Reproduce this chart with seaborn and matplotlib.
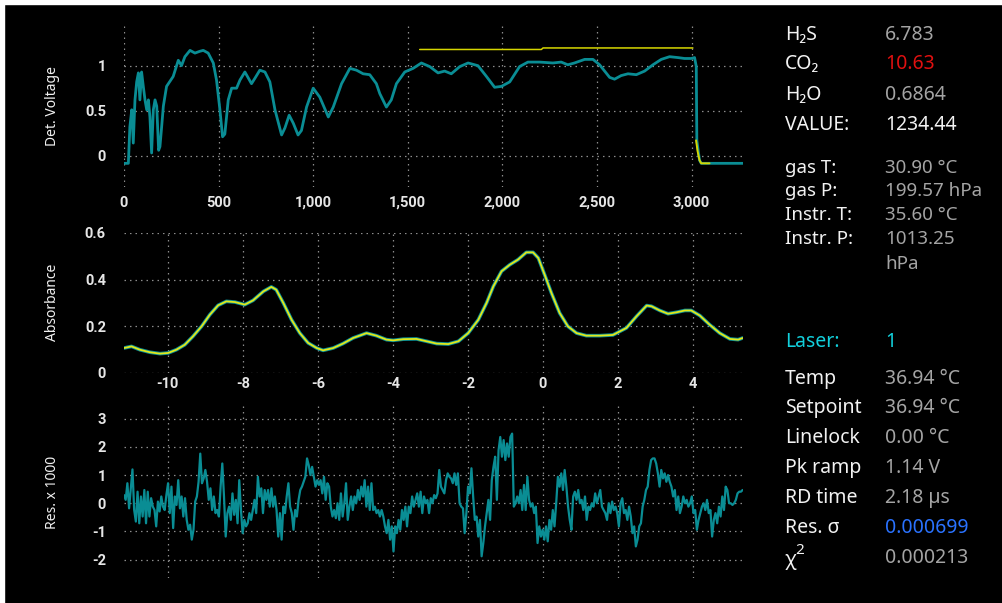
import numpy as np
import seaborn as sns
import matplotlib.pyplot as plt
from matplotlib.ticker import FuncFormatter
from matplotlib.patches import Rectangle

OUTPUT_IMAGE = 'out.png'

# --- detector voltage scan (top panel) ---
DET_X = [0, 23, 31, 41, 49, 58, 67, 76, 84, 93,
         102, 111, 120, 129, 137, 146, 155, 164, 173, 183,
         190, 199, 208, 225, 260, 287, 304, 322, 349, 375,
         401, 419, 445, 472, 489, 507, 521, 533, 551, 569,
         595, 613, 639, 674, 692, 718, 745, 771, 798, 833,
         851, 873, 895, 920, 938, 965, 1000, 1035, 1080, 1106,
         1150, 1194, 1229, 1264, 1299, 1334, 1352, 1387, 1413, 1440,
         1484, 1528, 1572, 1616, 1660, 1695, 1730, 1775, 1819, 1871,
         1916, 1959, 1995, 2039, 2091, 2135, 2197, 2267, 2311, 2346,
         2381, 2435, 2479, 2514, 2567, 2593, 2628, 2664, 2708, 2752,
         2796, 2840, 2884, 2928, 2963, 2998, 3016, 3025, 3028, 3042,
         3051, 3271]
DET_Y = [-0.085, -0.085, 0.32, 0.51, 0.14, 0.62, 0.82, 0.92, 0.62, 0.93,
         0.77, 0.62, 0.51, 0.62, 0.43, 0.03, 0.51, 0.62, 0.55, 0.06,
         0.10, 0.32, 0.55, 0.77, 0.88, 1.06, 1.00, 1.10, 1.17, 1.14,
         1.16, 1.17, 1.14, 1.03, 0.84, 0.51, 0.21, 0.24, 0.62, 0.75,
         0.75, 0.84, 0.93, 0.80, 0.86, 0.95, 0.93, 0.82, 0.51, 0.23,
         0.31, 0.45, 0.36, 0.23, 0.28, 0.54, 0.75, 0.65, 0.43, 0.54,
         0.80, 0.97, 0.95, 0.91, 0.90, 0.80, 0.69, 0.54, 0.62, 0.80,
         0.93, 0.97, 1.03, 0.99, 0.92, 0.94, 0.91, 0.99, 1.03, 1.00,
         0.88, 0.76, 0.77, 0.82, 0.99, 1.04, 1.04, 1.03, 1.04, 1.01,
         1.03, 1.07, 1.07, 1.01, 0.87, 0.85, 0.89, 0.91, 0.90, 0.94,
         1.01, 1.07, 1.10, 1.09, 1.08, 1.08, 1.09, 0.99, 0.17, -0.05,
         -0.085, -0.085]

# yellow reference / window markers on the scan
WIN_X = [1563, 2206, 2215, 3007]
WIN_Y = [1.18, 1.18, 1.197, 1.197]
TAIL_X = [3024, 3032, 3042, 3051, 3095]
TAIL_Y = [0.17, 0.05, -0.05, -0.085, -0.085]

# --- absorbance (middle panel): measured + fit ---
ABS_X = [-11.17, -10.97, -10.75, -10.48, -10.21, -9.99, -9.77, -9.55, -9.33, -9.10,
         -8.88, -8.66, -8.44, -8.21, -7.95, -7.73, -7.45, -7.24, -7.11, -6.92,
         -6.70, -6.48, -6.26, -6.03, -5.86, -5.59, -5.33, -5.06, -4.70, -4.44,
         -4.17, -3.99, -3.72, -3.37, -3.10, -2.83, -2.52, -2.25, -1.99, -1.72,
         -1.50, -1.32, -1.10, -0.88, -0.66, -0.44, -0.26, -0.12, 0.05, 0.23,
         0.45, 0.67, 0.90, 1.16, 1.52, 1.87, 2.23, 2.50, 2.77, 2.90,
         3.12, 3.34, 3.56, 3.79, 3.96, 4.19, 4.45, 4.72, 4.99, 5.21, 5.33]
ABS_Y = [0.107, 0.114, 0.100, 0.089, 0.083, 0.086, 0.100, 0.121, 0.157, 0.200,
         0.250, 0.290, 0.307, 0.304, 0.293, 0.311, 0.350, 0.369, 0.357, 0.300,
         0.228, 0.171, 0.129, 0.107, 0.097, 0.107, 0.126, 0.150, 0.171, 0.160,
         0.143, 0.140, 0.145, 0.146, 0.136, 0.126, 0.124, 0.136, 0.171, 0.228,
         0.300, 0.371, 0.436, 0.464, 0.486, 0.517, 0.517, 0.493, 0.421, 0.343,
         0.257, 0.200, 0.171, 0.160, 0.160, 0.163, 0.193, 0.243, 0.289, 0.286,
         0.268, 0.254, 0.260, 0.268, 0.268, 0.246, 0.207, 0.171, 0.146, 0.143, 0.150]
FIT_Y = ABS_Y  # fit sits right on top of the measurement

# --- residual x 1000 (bottom panel), evenly sampled over the same axis ---
RES_Y = [0.29, 0.12, 0.71, -0.18, 0.53, 1.2, -0.24, -0.65, 0.41, -0.71,
         0.24, -0.47, 0.47, -0.71, 0.41, -0.47, 0.18, -0.12, -0.24, -0.82,
         0.06, -0.29, 0.24, -0.12, -0.24, 0.29, 0.71, -0.35, 0.59, -0.88,
         0.24, -0.06, 0.82, -0.18, 0.24, -0.47, 0.18, -0.59, -0.94, -0.76,
         -1.29, -0.94, 0.06, 0.24, 0.76, 1.76, 0.71, 0.88, 1.18, 0.76,
         0.12, 0.53, -0.24, 0.24, -0.35, -0.24, -0.47, 0.59, 1.41, 0.24,
         -1.18, -0.35, -0.12, -0.59, 0.35, -0.41, 0.12, -0.71, 0.82, -0.24,
         -1.06, -0.59, -0.82, -0.71, -0.35, -0.59, -0.24, 0.12, -0.35, 0.94,
         0.24, 0.53, -0.35, 0.47, 0.12, 0.47, -0.12, 0.53, -0.12, 0.24,
         -0.24, -1.18, -0.35, -1.29, -0.12, -0.35, 0.24, 0.71, -0.12, -0.35,
         -0.94, -0.24, -0.47, 0.12, 0.47, 0.59, 0.76, 0.94, 1.59, 1.35,
         1.0, 1.29, 0.94, 0.59, 0.82, 0.65,
         0.82, 0.35, 0.94, 0.12, 0.71, 0.59, -0.12, -0.47, -0.24, -0.53,
         0, -0.59, 0.35, -0.47, 0, 0.71, -0.59, -0.12, 0.24, -0.24,
         0.24, 0, 0.47, 0.12, 0.59, 0.24, 0.82, -0.12, 0.59, -0.24,
         0.71, -0.24, -0.12, -0.35, -0.24, -0.47, -0.24, -0.47, -0.82, -1.06,
         -0.59, -1.29, -0.82, -1.71, -0.82, -1.06, -0.59, -0.94, -0.24, -0.59,
         -0.12, -0.82, -0.12, -0.35, 0.24, -0.12, 0.12, 0.35, -0.12, 0.41,
         -0.35, 0.24, 0, 0.12, -0.35, 0.18, 0, 0.29, 0.18, 0.35,
         1.18, 0.59, 0.47, 0.35, 0.82, 1.06, 0.94, 0.88, 0.71, 1.06,
         0.65, 1.06, 0, -0.12, -0.18, -1.06, -0.35, 0.59, 0.35, 1.24,
         0.24, -0.59, -0.47, -1.18, -0.59, -1.88, -1.41, -0.82, -0.35, 0.12,
         -0.59, 0.82, 1.29, 1.65, 0.12, 1.88, 2.35, 1.65, 2.24, 1.53,
         2.12, 1.65, 2.35, 2.47, -0.12, 0, 0.24, 0, 0.47, -0.24,
         0.65, -0.24, 0.94, 0.12,
         -0.12, 0, -0.35, -0.12, -1.41, -0.82, -1.18, -0.94, -1.29, -0.82,
         -1.35, -0.59, -0.94, -0.24, -0.82, 0, 0.94, 0.59, 1.06, 0.47,
         1.18, 0.59, -0.12, -0.59, -0.94, 0.24, 0.41, 0.12, 0.47, 0,
         0.12, -0.24, 0.24, -0.59, -0.12, -0.24, 0, -0.12, 0.35, 0,
         0.24, 0.47, -0.12, -0.24, -0.35, -0.59, 0, -0.35, 0.06, -0.24,
         -0.12, -0.35, -0.82, 0, 0.18, -0.35, -0.24, -0.59, -0.12, -0.47,
         -1.06, -0.82, -1.53, -1.29, -0.82, -0.71, -0.12, 0.12, 0.47, 0.59,
         1.18, 1.53, 1.59, 1.59, 1.41, 1.06, 0.59, 1.18, 0.88, 1.06,
         0.76, 1.0, 0.76, 0.59, 0.24, 0.47, -0.24, 0.24, -0.35, -0.12,
         0.24, 0, 0.12, -0.12, 0, 0.24, -0.35, -0.24, -0.94, -0.59,
         -0.35, -0.12, 0, -0.24, 0.12, -0.35, -0.24, -1.18, -0.59, -0.35,
         -0.71, -0.12, -0.47, 0.24, -0.24, 0.59, 0.47, 0, 0, -0.06,
         0, 0.12, 0.35, 0.41, 0.41, 0.47]
RES_X = np.linspace(-11.17, 5.33, len(RES_Y))

# --- readout panel on the right ---
GAS_LABELS = ['H\u2082S', 'CO\u2082', 'H\u2082O', 'VALUE:']
GAS_VALUES = ['6.783', '10.63', '0.6864', '1234.44']
COND_LABELS = ['gas T:', 'gas P:', 'Instr. T:', 'Instr. P:', '']
COND_VALUES = ['30.90 \u00b0C', '199.57 hPa', '35.60 \u00b0C', '1013.25', 'hPa']
LASER_LABELS = ['Laser:', 'Temp', 'Setpoint', 'Linelock', 'Pk ramp', 'RD time', 'Res. \u03c3', '\u03c7']
LASER_VALUES = ['1', '36.94 \u00b0C', '36.94 \u00b0C', '0.00 \u00b0C', '1.14 V', '2.18 \u00b5s', '0.000699', '0.000213']

TEAL = '#0a8d94'
YELLOW = '#d6d600'
FIT_YELLOW = '#e2e81a'
GRID = '#8c8c8c'
TICK = '#e6e6e6'
LABEL_WHITE = '#f2f2f2'
VALUE_GREY = '#a4a4a4'
CYAN = '#12d0dc'

W, H = 1003, 603


def fx(px):
    return px / W


def fy(py):
    return 1 - py / H


def style_axis(ax, xlim, ylim, xticks, yticks, xfmt, xpad, show_x=True):
    ax.set_facecolor('black')
    ax.set_xlim(*xlim)
    ax.set_ylim(*ylim)
    ax.set_xticks(xticks)
    ax.set_yticks(yticks)
    ax.xaxis.set_major_formatter(FuncFormatter(xfmt))
    ax.yaxis.set_major_formatter(FuncFormatter(lambda v, p: f'{v:g}'))
    ax.grid(True, color=GRID, linestyle=(0, (1.2, 3.2)), linewidth=0.9)
    ax.tick_params(axis='both', length=0, colors=TICK, labelsize=10.5)
    ax.tick_params(axis='y', pad=13)
    ax.tick_params(axis='x', pad=xpad, labelbottom=show_x)
    for s in ax.spines.values():
        s.set_visible(False)
    ax.set_xlabel('')
    ax.set_ylabel('')


sns.set_theme(style='dark')
plt.rcParams['font.family'] = ['Noto Sans', 'DejaVu Sans']
plt.rcParams['figure.facecolor'] = 'black'
plt.rcParams['axes.facecolor'] = 'black'

fig = plt.figure(figsize=(W / 100, H / 100), dpi=100)
fig.patch.set_facecolor('black')
# thin white frame at top and left of the screenshot
fig.add_artist(Rectangle((0, fy(4)), 1, 4 / H, transform=fig.transFigure, color='white', zorder=0))
fig.add_artist(Rectangle((0, 0), 4 / W, 1, transform=fig.transFigure, color='white', zorder=0))

ax_left, ax_w = fx(124), fx(743) - fx(124)
ax1 = fig.add_axes([ax_left, fy(187), ax_w, (187 - 25) / H])
ax2 = fig.add_axes([ax_left, fy(373), ax_w, (373 - 233) / H])
ax3 = fig.add_axes([ax_left, fy(578), ax_w, (578 - 402) / H])

# top: detector voltage
sns.lineplot(x=DET_X, y=DET_Y, ax=ax1, color=TEAL, linewidth=2.0, sort=False, estimator=None)
sns.lineplot(x=WIN_X, y=WIN_Y, ax=ax1, color=YELLOW, linewidth=1.1, sort=False, estimator=None)
sns.lineplot(x=TAIL_X, y=TAIL_Y, ax=ax1, color=YELLOW, linewidth=1.4, sort=False, estimator=None)
style_axis(ax1, (0, 3272), (-0.348, 1.452), range(0, 3001, 500), [0, 0.5, 1],
           lambda v, p: f'{int(v):,}', 6.5)

# middle: absorbance + fit
sns.lineplot(x=ABS_X, y=ABS_Y, ax=ax2, color=TEAL, linewidth=2.6, sort=False, estimator=None)
sns.lineplot(x=ABS_X, y=FIT_Y, ax=ax2, color=FIT_YELLOW, linewidth=1.3, sort=False, estimator=None)
style_axis(ax2, (-11.17, 5.34), (0, 0.6), range(-10, 5, 2), [0, 0.2, 0.4, 0.6],
           lambda v, p: f'{v:g}', 3)

# bottom: residual
sns.lineplot(x=RES_X, y=RES_Y, ax=ax3, color=TEAL, linewidth=1.6, sort=False, estimator=None)
style_axis(ax3, (-11.17, 5.34), (-2.65, 3.59), range(-10, 5, 2), [-2, -1, 0, 1, 2, 3],
           lambda v, p: f'{v:g}', 3, show_x=False)

for text, yc in [('Det. Voltage', 106), ('Absorbance', 302), ('Res. x 1000', 492)]:
    fig.text(fx(53), fy(yc), text, rotation=90, ha='center', va='center',
             color=LABEL_WHITE, fontsize=10)

# readout text
lx, vx = fx(785), fx(885)
gas_rows = [35, 64, 95, 125]
gas_colors = [VALUE_GREY, '#e01010', VALUE_GREY, LABEL_WHITE]
for lab, val, yc, col in zip(GAS_LABELS, GAS_VALUES, gas_rows, gas_colors):
    fig.text(lx, fy(yc), lab, color=LABEL_WHITE, fontsize=14, va='center')
    fig.text(vx, fy(yc), val, color=col, fontsize=14, va='center')

cond_rows = [168, 191, 215, 239, 264]
for lab, val, yc in zip(COND_LABELS, COND_VALUES, cond_rows):
    fig.text(lx, fy(yc), lab, color=LABEL_WHITE, fontsize=13.5, va='center')
    fig.text(vx, fy(yc), val, color=VALUE_GREY, fontsize=13.5, va='center')

laser_rows = [342, 379, 408, 438, 468, 498, 528, 560]
laser_colors = [CYAN] + [VALUE_GREY] * 5 + ['#2a72ff', VALUE_GREY]
for i, (lab, val, yc, col) in enumerate(zip(LASER_LABELS, LASER_VALUES, laser_rows, laser_colors)):
    lab_col = CYAN if i == 0 else LABEL_WHITE
    yv = fy(yc - 2) if i == len(LASER_LABELS) - 1 else fy(yc)
    fig.text(lx, fy(yc), lab, color=lab_col, fontsize=14, va='center')
    fig.text(vx, yv, val, color=col, fontsize=14, va='center')
# superscript 2 of chi squared
fig.text(fx(795), fy(550), '2', color=LABEL_WHITE, fontsize=11, va='center')

# tick labels are heavier in the original; set weight once ticks exist
fig.canvas.draw()
for ax in (ax1, ax2, ax3):
    for lbl in ax.get_xticklabels() + ax.get_yticklabels():
        lbl.set_fontfamily(['Roboto', 'DejaVu Sans'])
        lbl.set_fontweight('bold')

fig.savefig(OUTPUT_IMAGE, dpi=100, facecolor=fig.get_facecolor())
